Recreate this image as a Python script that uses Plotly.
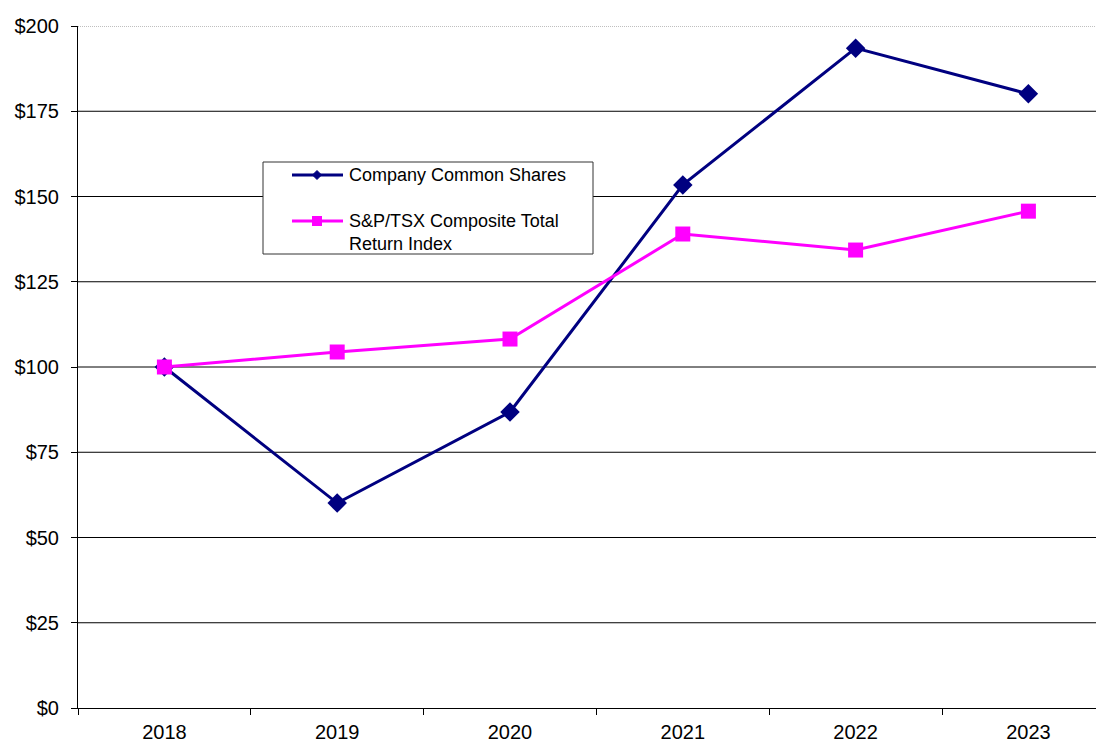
import plotly.graph_objects as go

years = ["2018", "2019", "2020", "2021", "2022", "2023"]
company = [100, 60.1, 86.8, 153.4, 193.5, 180.1]
sptsx = [100, 104.4, 108.2, 139.0, 134.3, 145.7]
y_ticks = [0, 25, 50, 75, 100, 125, 150, 175, 200]
y_labels = ["$" + str(v) for v in y_ticks]
names = ["Company Common Shares", "S&P/TSX Composite Total<br>Return Index"]
colors = ["#000080", "#FF00FF"]

xpos = list(range(len(years)))
FONT = "Liberation Sans, Arial, sans-serif"

OFF = 8  # page body margin
W, H = 1104 - OFF, 745 - OFF
ML, MT = 78 - OFF, 26 - OFF
MB = H - (708 - OFF)
PW, PH = W - ML, H - MT - MB


def px(x):
    return (x - OFF - ML) / PW


def py(y):
    return (H - MB - (y - OFF)) / PH


fig = go.Figure()
fig.add_trace(go.Scatter(
    x=xpos, y=company, mode="lines+markers", name=names[0].replace("<br>", " "),
    line=dict(color=colors[0], width=3),
    marker=dict(symbol="diamond", size=15, color=colors[0]),
    showlegend=False,
))
fig.add_trace(go.Scatter(
    x=xpos, y=sptsx, mode="lines+markers", name=names[1].replace("<br>", " "),
    line=dict(color=colors[1], width=3),
    marker=dict(symbol="square", size=15, color=colors[1]),
    showlegend=False,
))

shapes = []
for v in y_ticks[1:]:
    top = v == y_ticks[-1]
    shapes.append(dict(
        type="line", xref="paper", yref="y", x0=0, x1=1, y0=v, y1=v,
        line=dict(color="#808080" if top else "#000000", width=1,
                  dash="1px,1px" if top else "solid"),
        layer="below",
    ))

# manual legend box
shapes.append(dict(type="rect", xref="paper", yref="paper",
                   x0=px(263), x1=px(593), y0=py(254), y1=py(162),
                   line=dict(color="#333333", width=1), fillcolor="white",
                   layer="above"))
annotations = []
rows = [175, 221]
for i, (nm, col, yy) in enumerate(zip(names, colors, rows)):
    shapes.append(dict(type="line", xref="paper", yref="paper",
                       x0=px(292), x1=px(343), y0=py(yy), y1=py(yy),
                       line=dict(color=col, width=3), layer="above"))
    if i == 0:
        d = 4.5
        path = "M {} {} L {} {} L {} {} L {} {} Z".format(
            px(317 - d), py(yy), px(317), py(yy - d), px(317 + d), py(yy), px(317), py(yy + d))
        shapes.append(dict(type="path", xref="paper", yref="paper", path=path,
                           fillcolor=col, line=dict(color=col, width=1), layer="above"))
    else:
        d = 5
        shapes.append(dict(type="rect", xref="paper", yref="paper",
                           x0=px(317 - d), x1=px(317 + d), y0=py(yy + d), y1=py(yy - d),
                           fillcolor=col, line=dict(color=col, width=0), layer="above"))
    annotations.append(dict(
        xref="paper", yref="paper", x=px(347), y=py(yy - 12),
        xanchor="left", yanchor="top", align="left", showarrow=False,
        text=nm, font=dict(size=18, family=FONT, color="black"),
    ))

n = len(years)
fig.update_layout(
    width=W, height=H,
    margin=dict(l=ML, r=0, t=MT, b=MB, autoexpand=False),
    plot_bgcolor="white", paper_bgcolor="white",
    font=dict(family=FONT, size=20, color="black"),
    showlegend=False,
    shapes=shapes,
    annotations=annotations,
    xaxis=dict(
        range=[-0.5, -0.5 + PW / 172.8],
        tickvals=xpos, ticktext=years, ticks="",
        showgrid=False, zeroline=False, automargin=False,
        showline=True, linecolor="black", linewidth=1,
        minor=dict(tickvals=[i - 0.5 for i in range(n + 1)], ticks="outside",
                   ticklen=6, tickcolor="black", tickwidth=1, showgrid=False),
        tickfont=dict(size=20), ticklabelstandoff=6,
    ),
    yaxis=dict(
        range=[0, 200],
        tickvals=y_ticks, ticktext=y_labels,
        ticks="outside", ticklen=6, tickcolor="black",
        showgrid=False, zeroline=False, automargin=False,
        showline=True, linecolor="black", linewidth=1,
        tickfont=dict(size=20), ticklabelstandoff=8,
    ),
)

fig.write_html("out.html")
